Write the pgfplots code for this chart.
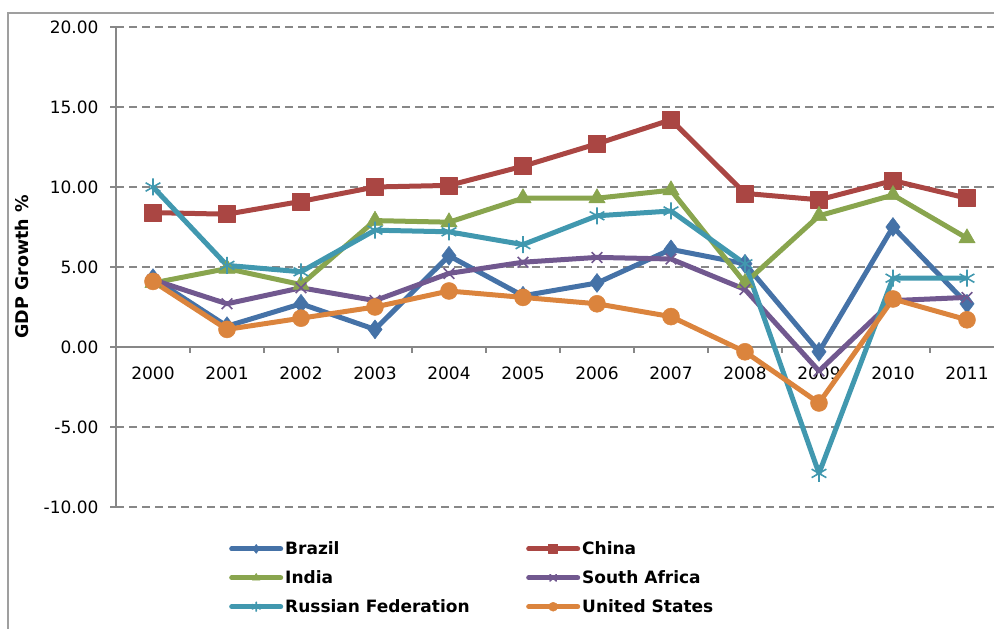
\documentclass[border=0pt]{standalone}
\usepackage{fontspec}
\setmainfont{DejaVu Sans}
\usepackage{pgfplots}
\pgfplotsset{compat=1.18}
\definecolor{cBrazil}{HTML}{4572A7}
\definecolor{cChina}{HTML}{AA4643}
\definecolor{cIndia}{HTML}{89A54E}
\definecolor{cSA}{HTML}{71588F}
\definecolor{cRussia}{HTML}{4198AF}
\definecolor{cUS}{HTML}{DB843D}
\definecolor{axgray}{HTML}{878787}
\begin{document}
\begin{tikzpicture}[x=1pt,y=1pt]
\useasboundingbox (0,0) rectangle (994,629);
\draw[color=axgray!80, line width=1.2pt] (8,0) -- (8,616) -- (994,616);
\begin{axis}[
  at={(116pt,122pt)}, anchor=south west,
  scale only axis, width=878pt, height=480pt,
  xmin=-0.5, xmax=11.365, ymin=-10, ymax=20,
  axis x line=middle, axis y line=left,
  axis line style={draw=axgray, line width=1.3pt, -},
  hide obscured x ticks=false, hide obscured y ticks=false,
  xtick={0,...,11},
  xticklabels={2000,2001,2002,2003,2004,2005,2006,2007,2008,2009,2010,2011},
  minor xtick={0.5,1.5,...,10.5},
  major x tick style={draw=none},
  minor x tick style={draw=axgray, line width=1.3pt},
  minor tick length=6pt, major tick length=6pt,
  xtick align=outside, ytick align=outside,
  ytick={-10,-5,...,20},
  y tick style={draw=axgray, line width=1.3pt},
  ymajorgrids,
  major y grid style={draw=axgray, line width=1.2pt, dash pattern=on 8pt off 5pt},
  tick label style={font=\fontsize{17}{20}\selectfont, text=black},
  xticklabel style={yshift=-10pt},
  yticklabel style={xshift=-8pt, /pgf/number format/.cd, fixed, fixed zerofill, precision=2, assume math mode=true},
  ylabel={GDP Growth \%},
  ylabel style={font=\bfseries\fontsize{17.5}{20}\selectfont, at={([xshift=-94pt]axis description cs:0,0.5)}, anchor=center, rotate=0},
  clip=false,
  legend columns=2,
  legend cell align=left,
  legend style={draw=none, fill=none, inner sep=0pt, at={(axis description cs:0,0)}, anchor=north west, xshift=113pt, yshift=-32.5pt, font=\bfseries\fontsize{17}{20}\selectfont, row sep=10.5pt},
  legend image code/.code={\draw[mark repeat=2,mark phase=2, line cap=round] plot coordinates {(0pt,0pt) (24.5pt,0pt) (49pt,0pt)};},
  legend image post style={mark size=4.5pt},
]
\addplot[color=cBrazil, line width=5pt, line join=round, mark=diamond*, mark size=9.5pt, mark options={solid, line width=0.5pt}] coordinates {
(0,4.3) (1,1.3) (2,2.7) (3,1.1) (4,5.7) (5,3.2) (6,4.0) (7,6.1) (8,5.2) (9,-0.3) (10,7.5) (11,2.7)};
\addlegendentry{\makebox[239pt][l]{Brazil}}
\addplot[color=cChina, line width=5pt, line join=round, mark=square*, mark size=8.5pt, mark options={solid, line width=0.5pt}] coordinates {
(0,8.4) (1,8.3) (2,9.1) (3,10.0) (4,10.1) (5,11.3) (6,12.7) (7,14.2) (8,9.6) (9,9.2) (10,10.4) (11,9.3)};
\addlegendentry{China}
\addplot[color=cIndia, line width=5pt, line join=round, mark=triangle*, mark size=9.5pt, mark options={solid, line width=0.5pt}] coordinates {
(0,4.0) (1,4.9) (2,3.9) (3,7.9) (4,7.8) (5,9.3) (6,9.3) (7,9.8) (8,4.0) (9,8.2) (10,9.5) (11,6.8)};
\addlegendentry{\makebox[239pt][l]{India}}
\addplot[color=cSA, line width=5pt, line join=round, mark=x, mark size=7.5pt, mark options={solid, line width=1.6pt}] coordinates {
(0,4.2) (1,2.7) (2,3.7) (3,2.9) (4,4.6) (5,5.3) (6,5.6) (7,5.5) (8,3.6) (9,-1.5) (10,2.9) (11,3.1)};
\addlegendentry{South Africa}
\addplot[color=cRussia, line width=5pt, line join=round, mark=asterisk, mark size=8.5pt, mark options={solid, line width=1.6pt}] coordinates {
(0,10.0) (1,5.1) (2,4.7) (3,7.3) (4,7.2) (5,6.4) (6,8.2) (7,8.5) (8,5.2) (9,-7.9) (10,4.3) (11,4.3)};
\addlegendentry{\makebox[239pt][l]{Russian Federation}}
\addplot[color=cUS, line width=5pt, line join=round, mark=*, mark size=8.5pt, mark options={solid, line width=0.5pt}] coordinates {
(0,4.1) (1,1.1) (2,1.8) (3,2.5) (4,3.5) (5,3.1) (6,2.7) (7,1.9) (8,-0.3) (9,-3.5) (10,3.0) (11,1.7)};
\addlegendentry{United States}
\end{axis}
\end{tikzpicture}
\end{document}
